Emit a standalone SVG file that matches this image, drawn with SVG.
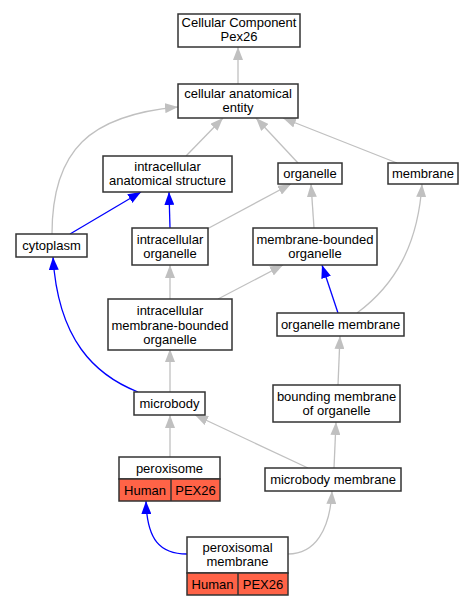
<svg xmlns="http://www.w3.org/2000/svg" width="473" height="605" viewBox="0 0 473 605">
<style>
.n rect{fill:#fff;stroke:#333;stroke-width:1.5}
.n rect.g{fill:#ff6347}
.n line{stroke:#333;stroke-width:1.5}
text{font-family:"Liberation Sans",Arial,sans-serif;font-size:13px;fill:#000;text-anchor:middle}
.e path{fill:none;stroke-width:1.3}
.e .gr{stroke:#c0c0c0;marker-end:url(#ag)}
.e .bl{stroke:#0000ff;marker-end:url(#ab)}
</style>
<defs>
<marker id="ag" markerUnits="userSpaceOnUse" markerWidth="13" markerHeight="10" refX="13" refY="5" orient="auto" viewBox="0 0 13 10"><path d="M0,0 L13,5 L0,10z" fill="#c0c0c0"/></marker>
<marker id="ab" markerUnits="userSpaceOnUse" markerWidth="13" markerHeight="10" refX="13" refY="5" orient="auto" viewBox="0 0 13 10"><path d="M0,0 L13,5 L0,10z" fill="#0000ff"/></marker>
</defs>
<rect width="473" height="605" fill="#fff"/>
<g id="edges" class="e">
<path class="gr" d="M238,84 L238,47"/>
<path class="gr" d="M186,156 L223,118"/>
<path class="gr" d="M298,163 L256,118"/>
<path class="gr" d="M397,163 L283,118"/>
<path class="gr" d="M52,234 C52,150 90,115 178,107"/>
<path class="bl" d="M70,234 L141,192"/>
<path class="bl" d="M170,228 L169,192"/>
<path class="gr" d="M207,229 L291,184"/>
<path class="gr" d="M314,228 L311,184"/>
<path class="gr" d="M170,299 L170,265"/>
<path class="gr" d="M218,299 L283,265"/>
<path class="bl" d="M338,313 L322,265"/>
<path class="gr" d="M357,313 C395,285 418,245 422,184"/>
<path class="gr" d="M170,392 L170,349"/>
<path class="bl" d="M138,392 C95,375 58,340 53,257"/>
<path class="gr" d="M338,385 L340,336"/>
<path class="gr" d="M170,457 L170,415"/>
<path class="gr" d="M308,468 L195,415"/>
<path class="gr" d="M334,468 L336,422"/>
<path class="bl" d="M187,554 C160,554 147,540 146,501"/>
<path class="gr" d="M288,554 C315,554 330,530 332,491"/>
</g>
<g id="n_cc" class="n"><rect x="178" y="14" width="122" height="33"/><text x="239" y="27">Cellular Component</text><text x="239" y="41">Pex26</text></g>
<g id="n_cae" class="n"><rect x="178" y="84" width="120" height="34"/><text x="238" y="97.5">cellular anatomical</text><text x="238" y="111.5">entity</text></g>
<g id="n_ias" class="n"><rect x="103" y="156" width="129" height="36"/><text x="167.5" y="171">intracellular</text><text x="167.5" y="185">anatomical structure</text></g>
<g id="n_org" class="n"><rect x="278" y="163" width="64" height="21"/><text x="310" y="178">organelle</text></g>
<g id="n_mem" class="n"><rect x="388" y="163" width="70" height="21"/><text x="423" y="178">membrane</text></g>
<g id="n_cyt" class="n"><rect x="16" y="234" width="71" height="23"/><text x="51.5" y="250">cytoplasm</text></g>
<g id="n_io" class="n"><rect x="132" y="228" width="76" height="37"/><text x="170" y="244">intracellular</text><text x="170" y="258">organelle</text></g>
<g id="n_mbo" class="n"><rect x="253" y="228" width="124" height="37"/><text x="315" y="244">membrane-bounded</text><text x="315" y="258">organelle</text></g>
<g id="n_imbo" class="n"><rect x="108" y="299" width="124" height="51"/><text x="170" y="315">intracellular</text><text x="170" y="329.5">membrane-bounded</text><text x="170" y="344">organelle</text></g>
<g id="n_om" class="n"><rect x="277" y="313" width="127" height="23"/><text x="340.5" y="329">organelle membrane</text></g>
<g id="n_mb" class="n"><rect x="134" y="392" width="71" height="23"/><text x="169.5" y="408">microbody</text></g>
<g id="n_bmo" class="n"><rect x="273" y="385" width="127" height="37"/><text x="336.5" y="401">bounding membrane</text><text x="336.5" y="415">of organelle</text></g>
<g id="n_per" class="n"><rect x="119" y="457" width="101" height="22"/><rect class="g" x="119" y="479" width="101" height="22"/><line x1="171" y1="479" x2="171" y2="501"/><text x="169.5" y="472.5">peroxisome</text><text x="145" y="494.5">Human</text><text x="195.5" y="494.5">PEX26</text></g>
<g id="n_mbm" class="n"><rect x="265" y="468" width="136" height="23"/><text x="333" y="484">microbody membrane</text></g>
<g id="n_pm" class="n"><rect x="187" y="537" width="101" height="36"/><rect class="g" x="187" y="573" width="101" height="22"/><line x1="238" y1="573" x2="238" y2="595"/><text x="237.5" y="552">peroxisomal</text><text x="237.5" y="566">membrane</text><text x="212.5" y="588.5">Human</text><text x="263" y="588.5">PEX26</text></g>
</svg>
